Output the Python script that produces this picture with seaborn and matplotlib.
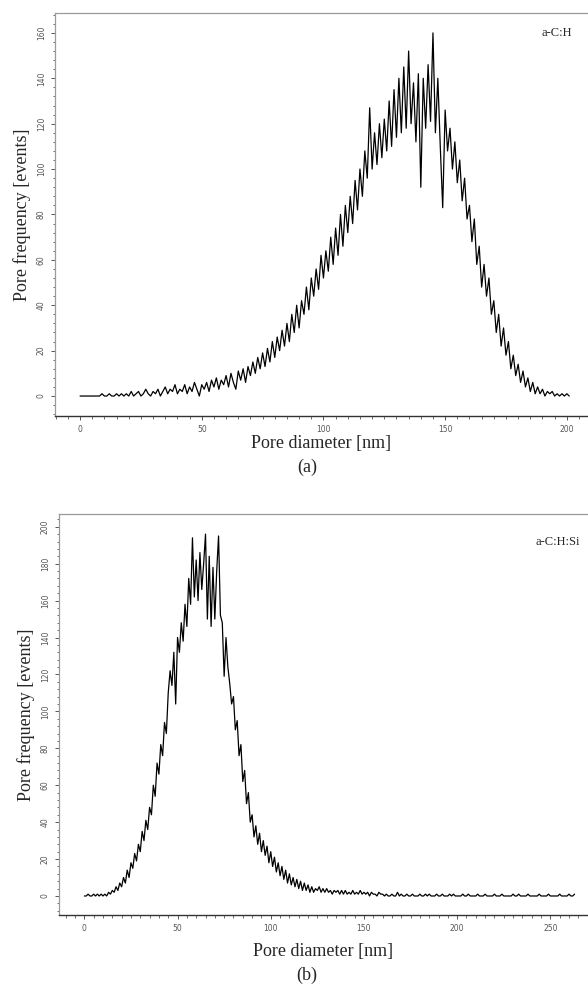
import matplotlib
matplotlib.use("Agg")
import matplotlib.pyplot as plt
import matplotlib.ticker as ticker
import seaborn as sns
import pandas as pd

# Dados (frequencia por diametro, passo de 1 nm)
diam_a = list(range(0, 202))
freq_a = [
    0, 0, 0, 0, 0, 0, 0, 0, 0, 1, 0, 0, 1, 0, 0, 1, 0, 1, 0, 1, 0,
    2, 0, 1, 2, 0, 1, 3, 1, 0, 2,
    1, 3, 0, 2, 4, 1, 3, 2, 5, 1,
    3, 2, 5, 1, 4, 2, 6, 3, 0, 5,
    3, 6, 2, 7, 4, 8, 3, 7, 5, 9,
    4, 10, 6, 3, 11, 7, 12, 6, 13, 9,
    15, 10, 17, 12, 19, 13, 21, 15, 24, 17,
    26, 20, 29, 22, 32, 24, 36, 28, 40, 30,
    42, 36, 48, 38, 52, 44, 56, 47, 62, 52,
    64, 55, 70, 58, 74, 62, 80, 66, 84, 72,
    88, 76, 95, 82, 100, 88, 108, 96, 127, 100,
    116, 102, 120, 105, 122, 108, 130, 110, 135, 114,
    140, 116, 145, 118, 152, 120, 138, 112, 142, 92,
    140, 118, 146, 121, 160, 116, 140, 110, 83, 126,
    108, 118, 100, 112, 94, 104, 86, 96, 78, 84,
    68, 78, 58, 66, 48, 58, 44, 52, 36, 42,
    28, 36, 22, 30, 18, 24, 12, 18, 9, 14,
    6, 11, 4, 8, 2, 6, 1, 4, 1, 3,
    0, 2, 1, 2, 0, 1, 0, 1, 0, 1, 0,
]

diam_b = list(range(0, 264))
freq_b = [
    0, 0, 1, 0, 0, 1, 0, 1, 0, 1, 0,
    1, 0, 2, 1, 3, 2, 5, 3, 7, 5,
    10, 7, 14, 10, 18, 15, 23, 19, 28, 24,
    35, 30, 41, 36, 48, 44, 60, 54, 72, 66,
    82, 76, 94, 88, 110, 122, 114, 132, 104, 140,
    132, 148, 138, 158, 146, 172, 158, 194, 162, 182,
    160, 186, 166, 180, 196, 150, 184, 146, 178, 150,
    176, 195, 152, 148, 119, 140, 124, 115, 104, 108,
    90, 95, 76, 82, 62, 68, 50, 56, 40, 44,
    32, 38, 28, 34, 24, 30, 22, 27, 18, 24,
    16, 21, 13, 18, 11, 16, 9, 14, 7, 12,
    6, 10, 5, 9, 4, 8, 3, 7, 3, 6,
    2, 5, 2, 4, 3, 5, 2, 4, 2, 4,
    2, 3, 1, 3, 2, 3, 1, 3, 1, 3,
    1, 2, 1, 3, 1, 2, 1, 3, 1, 2,
    1, 2, 0, 2, 1, 1, 0, 2, 1, 1,
    0, 1, 0, 0, 1, 0, 0, 2, 0, 1,
    0, 0, 1, 0, 0, 1, 0, 0, 0, 1,
    0, 0, 1, 0, 1, 0, 0, 0, 1, 0,
    0, 1, 0, 0, 0, 1, 0, 1, 0, 0,
    0, 0, 1, 0, 0, 1, 0, 0, 0, 0,
    1, 0, 0, 0, 1, 0, 0, 0, 0, 1,
    0, 0, 0, 1, 0, 0, 0, 0, 0, 1,
    0, 0, 1, 0, 0, 0, 0, 1, 0, 0,
    0, 0, 0, 1, 0, 0, 0, 0, 1, 0,
    0, 0, 0, 0, 1, 0, 0, 0, 0, 1,
    0, 0, 1,
]

sns.set_style("white")
plt.rcParams['font.family'] = ['Liberation Serif', 'DejaVu Serif']

W, H = 588, 989
fig = plt.figure(figsize=(W / 100, H / 100), dpi=100)


def estilo_eixo(ax, xlim, ylim, ymajor):
    ax.set_xlim(*xlim)
    ax.set_ylim(*ylim)
    ax.xaxis.set_major_locator(ticker.MultipleLocator(50))
    ax.xaxis.set_minor_locator(ticker.MultipleLocator(5))
    ax.yaxis.set_major_locator(ticker.MultipleLocator(ymajor))
    ax.yaxis.set_minor_locator(ticker.MultipleLocator(ymajor / 5))
    ax.spines['right'].set_visible(False)
    for s in ['left', 'top']:
        ax.spines[s].set_color('#9a9a9a')
        ax.spines[s].set_linewidth(0.9)
    ax.spines['bottom'].set_color('#333333')
    ax.spines['bottom'].set_linewidth(1.0)
    ax.tick_params(axis='both', which='major', direction='out', length=3,
                   width=0.7, color='#555555', labelsize=5.5,
                   labelcolor='#555555', bottom=True, left=True)
    ax.tick_params(axis='both', which='minor', direction='out', length=1.8,
                   width=0.6, color='#555555', bottom=True, left=True)
    ax.tick_params(axis='y', labelrotation=90)
    for lbl in ax.get_xticklabels() + ax.get_yticklabels():
        lbl.set_family('DejaVu Sans')
    for lbl in ax.get_yticklabels():
        lbl.set_verticalalignment('center')
    ax.grid(False)


# --- Painel (a) ---
ax_a = fig.add_axes([55 / W, 1 - 416 / H, (W - 55) / W, (416 - 12.7) / H])
sns.lineplot(x=diam_a, y=freq_a, color='black', linewidth=0.9,
             estimator=None, ax=ax_a)
estilo_eixo(ax_a, (-10.3, 208.7), (-8.8, 168.9), 20)
ax_a.set_xlabel('Pore diameter [nm]', fontsize=13, labelpad=1)
ax_a.set_ylabel('Pore frequency [events]', fontsize=13, labelpad=4)
ax_a.text(0.97, 0.95, 'a-C:H', transform=ax_a.transAxes, fontsize=9,
          ha='right', va='center')
fig.text(307 / W, 1 - 467 / H, '(a)', fontsize=13, ha='center', va='center')

# --- Painel (b) ---
ax_b = fig.add_axes([59 / W, 1 - 915 / H, (W - 59) / W, (915 - 514) / H])
sns.lineplot(x=diam_b, y=freq_b, color='black', linewidth=0.9,
             estimator=None, ax=ax_b)
estilo_eixo(ax_b, (-13.6, 270.2), (-10.3, 206.9), 20)
ax_b.set_xlabel('Pore diameter [nm]', fontsize=13, labelpad=7)
ax_b.set_ylabel('Pore frequency [events]', fontsize=13, labelpad=4)
ax_b.text(0.985, 0.93, 'a-C:H:Si', transform=ax_b.transAxes, fontsize=9,
          ha='right', va='center')
fig.text(307 / W, 1 - 975 / H, '(b)', fontsize=13, ha='center', va='center')

fig.savefig('out.png', dpi=100)
plt.close(fig)
